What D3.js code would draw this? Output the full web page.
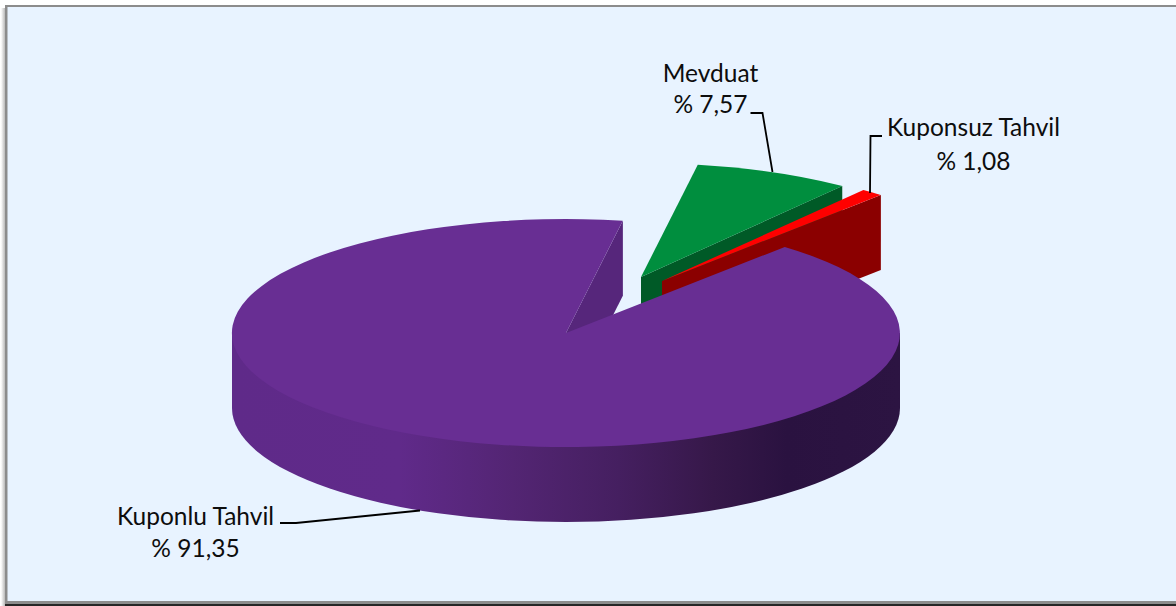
<!DOCTYPE html>
<html>
<head>
<meta charset="utf-8">
<script src="https://cdn.jsdelivr.net/npm/d3@7"></script>
<style>
  html, body { margin: 0; padding: 0; background: #fff; overflow: hidden; }
  svg { display: block; }
  text { font-family: Lato, "Open Sans", sans-serif; font-size: 24.5px; fill: #0d0d0d; }
</style>
</head>
<body>
<div id="canvasRoot"></div>
<script>
// Data (clockwise order, starting at the cut in the pie)
const categories = ["Mevduat", "Kuponsuz Tahvil", "Kuponlu Tahvil"];
const values = [7.57, 1.08, 91.35];
const valueLabels = ["% 7,57", "% 1,08", "% 91,35"];
const topColors = ["#008e3e", "#ff0000", "#682e93"];
const wallColors = ["#005a27", "#8b0000", "#56267b"];

const WIDTH = 1176, HEIGHT = 606;
const cx = 566, cy = 333, rx = 334, ry = 114, depth = 75;
const toRad = d => d * Math.PI / 180;

// Exploded slices are shifted, purple one stays put
const offsets = [[75, -56], [96, -52], [0, 0]];
const labelPos = [
  [710.5, 82, 113],
  [973.5, 136, 169.5],
  [195.5, 524.5, 557],
];
const leaders = [
  [[750.5, 113], [762.5, 113], [772.5, 172]],
  [[882, 136], [870.5, 136], [870, 193]],
  [[280, 523], [296, 523], [420, 510.5]],
];

const svg = d3.select("#canvasRoot").append("svg")
  .attr("width", WIDTH)
  .attr("height", HEIGHT);

const defs = svg.append("defs");

const sideGrad = defs.append("linearGradient")
  .attr("id", "sideGrad")
  .attr("gradientUnits", "userSpaceOnUse")
  .attr("x1", cx - rx).attr("x2", cx + rx)
  .attr("y1", 0).attr("y2", 0);
[[0, "#5f2a89"], [0.25, "#602a8a"], [0.42, "#532573"], [0.58, "#451f60"],
 [0.72, "#361849"], [0.83, "#2a1240"], [1, "#2c1442"]].forEach(([o, c]) => {
  sideGrad.append("stop").attr("offset", o).attr("stop-color", c);
});

const shadowGrad = defs.append("linearGradient").attr("id", "shadowGrad");
shadowGrad.append("stop").attr("offset", 0).attr("stop-color", "#fff");
shadowGrad.append("stop").attr("offset", 1).attr("stop-color", "#a8a8a8");

// Frame
svg.append("rect").attr("x", 1).attr("y", 8).attr("width", 5).attr("height", HEIGHT)
  .attr("fill", "url(#shadowGrad)");
svg.append("rect").attr("x", 5).attr("y", 5).attr("width", WIDTH).attr("height", HEIGHT)
  .attr("fill", "#8c8c8c");
svg.append("rect").attr("x", 7.5).attr("y", 7).attr("width", WIDTH).attr("height", 594)
  .attr("fill", "#e8f3ff");
svg.append("rect").attr("x", 5).attr("y", 604).attr("width", WIDTH).attr("height", 2)
  .attr("fill", "#262626");

// Pie layout, 0 is up and angles grow clockwise
const pie = d3.pie().sort(null).value(d => d)
  .startAngle(toRad(9.8))
  .endAngle(toRad(9.8) + 2 * Math.PI);
const slices = pie(values).map((s, i) => ({ ...s, i, off: offsets[i] }));

const onRim = (a, off) => [
  cx + off[0] + rx * Math.sin(a),
  cy + off[1] - ry * Math.cos(a),
];

const unitArc = d3.arc().innerRadius(0).outerRadius(1);
const gPie = svg.append("g");

// Back to front: green, red, purple
slices.forEach(s => {
  const g = gPie.append("g");
  const apex = [cx + s.off[0], cy + s.off[1]];
  // flat wall of the cut, always the clockwise end of the slice
  const rim = onRim(s.endAngle, s.off);
  const wall = [apex, rim, [rim[0], rim[1] + depth], [apex[0], apex[1] + depth]];
  g.append("path")
    .attr("d", d3.line()(wall) + "Z")
    .attr("fill", wallColors[s.i]);

  if (s.i === 2) {
    // outer side, filled up to the centre line so no seam shows under the top
    g.append("path")
      .attr("d", `M${cx + rx},${cy}L${cx - rx},${cy}` +
        `L${cx - rx},${cy + depth}A${rx},${ry} 0 0 0 ${cx + rx},${cy + depth}Z`)
      .attr("fill", "url(#sideGrad)");
  }

  g.append("path")
    .attr("d", unitArc(s))
    .attr("transform", `translate(${apex[0]},${apex[1]}) scale(${rx},${ry})`)
    .attr("fill", topColors[s.i]);
});

// Leader lines
svg.selectAll("path.leader")
  .data(leaders)
  .enter()
    .append("path")
    .classed("leader", true)
    .attr("d", d => d3.line()(d))
    .attr("fill", "none")
    .attr("stroke", "#000")
    .attr("stroke-width", 1.8);

// Labels
const labels = svg.selectAll("g.label")
  .data(categories)
  .enter()
    .append("g")
    .classed("label", true);
labels.append("text")
  .attr("text-anchor", "middle")
  .attr("x", (_, i) => labelPos[i][0])
  .attr("y", (_, i) => labelPos[i][1])
  .text(d => d);
labels.append("text")
  .attr("text-anchor", "middle")
  .attr("x", (_, i) => labelPos[i][0])
  .attr("y", (_, i) => labelPos[i][2])
  .text((_, i) => valueLabels[i]);
</script>
</body>
</html>
